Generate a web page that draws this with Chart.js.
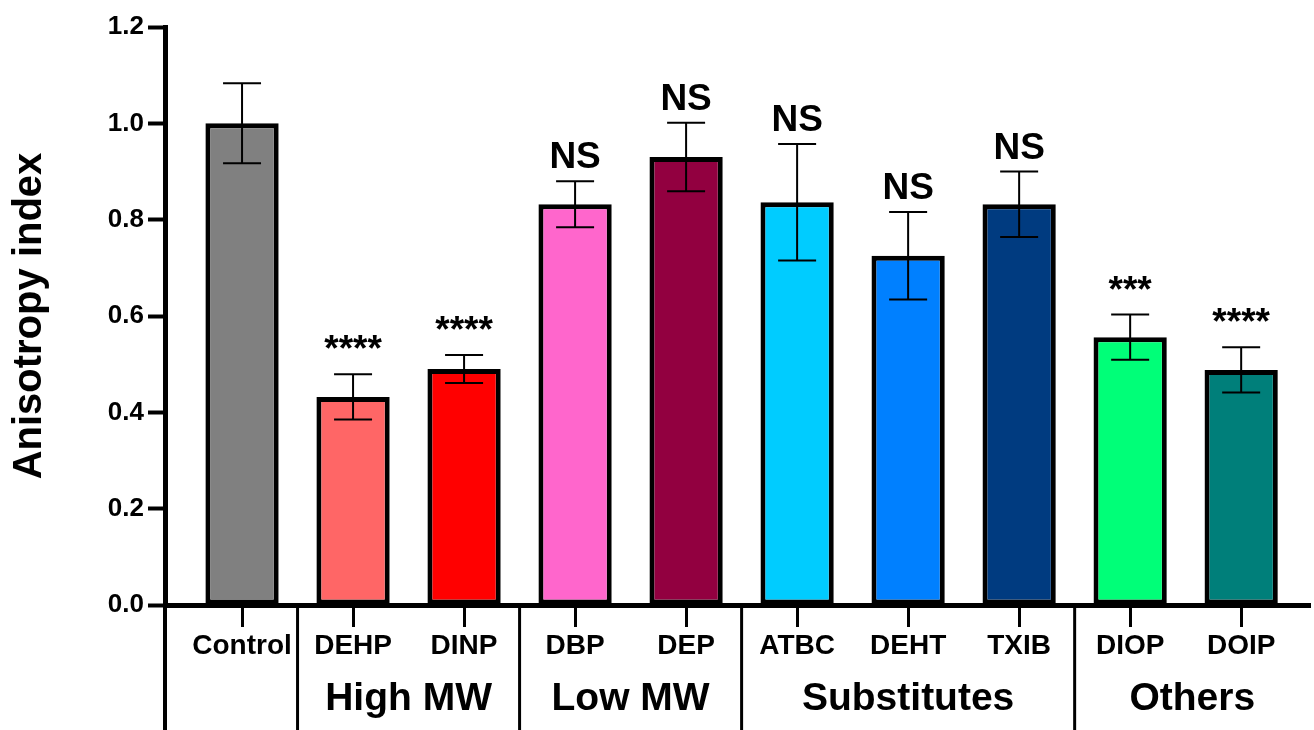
<!DOCTYPE html>
<html>
<head>
<meta charset="utf-8">
<script src="https://cdn.jsdelivr.net/npm/chart.js@4"></script>
<style>
html,body{margin:0;padding:0;background:#fff;}
canvas{display:block;}
</style>
</head>
<body>
<canvas id="c" width="1314" height="730" style="width:1314px;height:730px"></canvas>
<script>
const categories = ['Control','DEHP','DINP','DBP','DEP','ATBC','DEHT','TXIB','DIOP','DOIP'];
const means  = [1.000, 0.432, 0.490, 0.832, 0.930, 0.836, 0.725, 0.832, 0.556, 0.488];
const errors = [0.083, 0.047, 0.029, 0.048, 0.071, 0.121, 0.091, 0.068, 0.047, 0.047];
const significance = ['', '****', '****', 'NS', 'NS', 'NS', 'NS', 'NS', '***', '****'];
const groupNames = ['High MW', 'Low MW', 'Substitutes', 'Others'];
const groupFirst = [1, 3, 5, 8];
const groupLast  = [2, 4, 7, 9];
const yTicks = [0, 0.2, 0.4, 0.6, 0.8, 1.0, 1.2];
const barColors = ['#808080','#FF6666','#FF0000','#FF66CC','#920040','#00CCFF','#0080FF','#003B80','#00FF78','#007F7A'];

const BOLD = 'bold';
const FONT = '"Liberation Sans", Arial, sans-serif';
const extras = {
  id: 'extras',
  afterDatasetsDraw(chart) {
    const ctx = chart.ctx;
    const y = chart.scales.y;
    const meta = chart.getDatasetMeta(0);
    ctx.save();
    ctx.strokeStyle = '#000';
    ctx.lineWidth = 2;
    meta.data.forEach((bar, i) => {
      const x = bar.x;
      const top = y.getPixelForValue(means[i] + errors[i]);
      const bot = y.getPixelForValue(means[i] - errors[i]);
      ctx.beginPath();
      ctx.moveTo(x, top); ctx.lineTo(x, bot);
      ctx.moveTo(x - 19, top); ctx.lineTo(x + 19, top);
      ctx.moveTo(x - 19, bot); ctx.lineTo(x + 19, bot);
      ctx.stroke();
      if (significance[i]) {
        ctx.fillStyle = '#000';
        ctx.font = 'bold 37px ' + FONT;
        ctx.textAlign = 'center';
        ctx.textBaseline = 'alphabetic';
        ctx.fillText(significance[i], x, top - 13);
      }
    });
    ctx.restore();
  },
  afterDraw(chart) {
    const ctx = chart.ctx;
    const xs = chart.scales.x;
    const area = chart.chartArea;
    const H = chart.height;
    ctx.save();
    ctx.strokeStyle = '#000';
    ctx.lineWidth = 4;
    ctx.beginPath();
    ctx.moveTo(area.left, area.bottom);
    ctx.lineTo(area.left, H);
    ctx.stroke();
    ctx.lineWidth = 3;
    const bounds = groupFirst.map(f => xs.getPixelForValue(f - 0.5));
    bounds.forEach(bx => {
      ctx.beginPath();
      ctx.moveTo(bx, area.bottom);
      ctx.lineTo(bx, H);
      ctx.stroke();
    });
    ctx.fillStyle = '#000';
    ctx.font = 'bold 39px ' + FONT;
    ctx.textAlign = 'center';
    ctx.textBaseline = 'middle';
    groupNames.forEach((g, k) => {
      const l = xs.getPixelForValue(groupFirst[k] - 0.5);
      const r = k < groupNames.length - 1 ? xs.getPixelForValue(groupLast[k] + 0.5) : area.right;
      ctx.fillText(g, (l + r) / 2, 699);
    });
    ctx.restore();
  }
};

new Chart(document.getElementById('c'), {
  type: 'bar',
  data: {
    datasets: [{
      data: means.map((v, i) => ({x: i, y: v})),
      backgroundColor: barColors,
      borderColor: '#000',
      borderWidth: 5,
      borderSkipped: false,
      barPercentage: 0.66,
      categoryPercentage: 1.0
    }]
  },
  options: {
    responsive: false,
    animation: false,
    devicePixelRatio: 1,
    layout: { padding: { top: 27, right: 4, left: 0, bottom: 0 } },
    plugins: { legend: { display: false }, tooltip: { enabled: false } },
    scales: {
      x: {
        type: 'linear',
        min: -0.694,
        max: 9.62,
        offset: false,
        z: 1,
        afterBuildTicks: axis => { axis.ticks = categories.map((_, i) => ({ value: i })); },
        afterFit: s => { s.height = 125; },
        border: { display: true, width: 5, color: '#000' },
        grid: { offset: false, drawOnChartArea: false, drawTicks: true, tickLength: 22, tickWidth: 3, tickColor: '#000' },
        ticks: {
          autoSkip: false,
          maxRotation: 0,
          padding: 2,
          color: '#000',
          font: { family: FONT, size: 28, weight: BOLD },
          callback: v => categories[v] ?? ''
        }
      },
      y: {
        min: 0,
        max: 1.2,
        z: 1,
        afterBuildTicks: axis => { axis.ticks = yTicks.map(v => ({ value: v })); },
        afterFit: s => { s.width = 165; },
        border: { display: true, width: 5, color: '#000' },
        grid: { drawOnChartArea: false, drawTicks: true, tickLength: 17, tickWidth: 4, tickColor: '#000' },
        ticks: {
          padding: 4,
          color: '#000',
          font: { family: FONT, size: 26, weight: BOLD },
          callback: v => Number(v).toFixed(1)
        },
        title: {
          display: true,
          text: 'Anisotropy index',
          color: '#000',
          padding: { top: 6, bottom: 0 },
          font: { family: FONT, size: 40, weight: BOLD }
        }
      }
    }
  },
  plugins: [extras]
});
</script>
</body>
</html>
